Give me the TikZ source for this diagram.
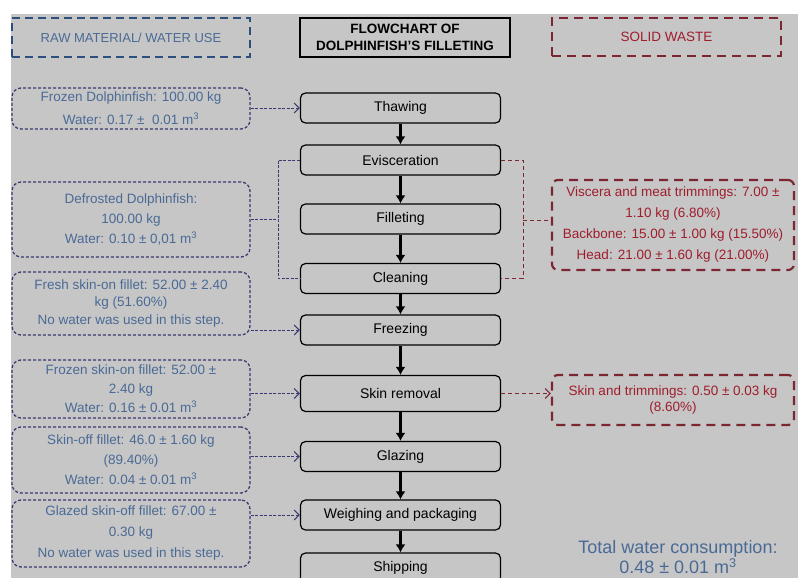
\documentclass[tikz,border=0pt]{standalone}
\usepackage{fontspec}
\setmainfont{Liberation Sans}
\usetikzlibrary{arrows.meta}
\definecolor{bg}{HTML}{C6C6C6}
\definecolor{bluetxt}{HTML}{4A6A96}
\definecolor{navyb}{HTML}{3A3A72}
\definecolor{blueb}{HTML}{2D4F7E}
\definecolor{redtxt}{HTML}{9E1E2C}
\definecolor{redb}{HTML}{7B2630}
\tikzset{
  proc/.style={draw=black, line width=1.2pt, rounded corners=5pt, minimum width=200pt, minimum height=30pt, inner sep=0pt, font=\fontsize{14}{16}\selectfont},
  inbox/.style={draw=navyb, line width=1.3pt, dash pattern=on 3pt off 2pt, rounded corners=9pt, minimum width=238pt, inner sep=0pt, align=center, text=bluetxt},
  wbox/.style={draw=redb, line width=2.2pt, dash pattern=on 9pt off 6pt, rounded corners=6pt, minimum width=242pt, inner sep=0pt, align=center, text=redtxt, font=\fontsize{13.5}{21}\selectfont},
  flow/.style={line width=2.2pt, -{Latex[length=8pt,width=10pt]}},
  inarrow/.style={draw=navyb, line width=1pt, dash pattern=on 3pt off 1.5pt, -{Straight Barb[length=5pt,width=10pt]}},
  inconn/.style={draw=navyb, line width=1pt, dash pattern=on 3pt off 1.5pt},
  wconn/.style={draw=redb, line width=1pt, dash pattern=on 4pt off 3pt},
  warrow/.style={draw=redb, line width=1pt, dash pattern=on 4pt off 3pt, -{Straight Barb[length=5pt,width=10pt]}},
}
\begin{document}
\begin{tikzpicture}[x=1pt,y=-1pt]
\useasboundingbox (0,0) rectangle (798,578);
\fill[white] (0,0) rectangle (798,578);
\fill[bg] (11,14) rectangle (798,578);

% headers
\node[draw=blueb, line width=2pt, dash pattern=on 8pt off 5pt, minimum width=238pt, minimum height=39pt, inner sep=0pt, text=bluetxt, font=\fontsize{13}{15}\selectfont] (hraw) at (131,37.5) {RAW MATERIAL/ WATER USE};
\node[draw=black, line width=2pt, minimum width=210pt, minimum height=39pt, inner sep=0pt, align=center, font=\bfseries\fontsize{13.5}{17}\selectfont] (htitle) at (405,37.5) {FLOWCHART OF\\DOLPHINFISH'S FILLETING};
\node[draw=redb, line width=2.2pt, dash pattern=on 9pt off 6pt, minimum width=229pt, minimum height=38pt, inner sep=0pt, text=redtxt, font=\fontsize{13.5}{15}\selectfont] (hwaste) at (666.5,37) {SOLID WASTE};

% process steps
\node[proc] (thaw) at (400.5,108) {Thawing};
\node[proc] (evis) at (400.5,160) {Evisceration};
\node[proc] (fill) at (400.5,219) {Filleting};
\node[proc] (clean) at (400.5,278.5) {Cleaning};
\node[proc] (frz) at (400.5,330) {Freezing};
\node[proc, minimum height=36pt] (skr) at (400.5,393.5) {Skin removal};
\node[proc] (glz) at (400.5,456.5) {Glazing};
\node[proc] (wgh) at (400.5,515) {Weighing and packaging};
\node[proc] (ship) at (400.5,568) {Shipping};

\draw[flow] (thaw) -- (evis);
\draw[flow] (evis) -- (fill);
\draw[flow] (fill) -- (clean);
\draw[flow] (clean) -- (frz);
\draw[flow] (frz) -- (skr);
\draw[flow] (skr) -- (glz);
\draw[flow] (glz) -- (wgh);
\draw[flow] (wgh) -- (ship);

% inputs
\node[inbox, minimum height=41pt, font=\fontsize{13.5}{23}\selectfont] (in1) at (131,108.5) {Frozen Dolphinfish: 100.00 kg\\Water: 0.17 ±\ \ 0.01 m\textsuperscript{3}};
\node[inbox, minimum height=75pt, font=\fontsize{13.5}{20}\selectfont] (in2) at (131,219.5) {Defrosted Dolphinfish:\\100.00 kg\\Water: 0.10 ± 0,01 m\textsuperscript{3}};
\node[inbox, minimum height=63pt, font=\fontsize{13.5}{17.5}\selectfont] (in3) at (131,303.5) {Fresh skin-on fillet: 52.00 ± 2.40\\kg (51.60\%)\\No water was used in this step.};
\node[inbox, minimum height=58pt, font=\fontsize{13.5}{19}\selectfont] (in4) at (131,389) {Frozen skin-on fillet: 52.00 ±\\2.40 kg\\Water: 0.16 ± 0.01 m\textsuperscript{3}};
\node[inbox, minimum height=66pt, font=\fontsize{13.5}{20}\selectfont] (in5) at (131,460) {Skin-off fillet: 46.0 ± 1.60 kg\\(89.40\%)\\Water: 0.04 ± 0.01 m\textsuperscript{3}};
\node[inbox, minimum height=67pt, font=\fontsize{13.5}{21}\selectfont] (in6) at (131,533.5) {Glazed skin-off fillet: 67.00 ±\\0.30 kg\\No water was used in this step.};

\draw[inarrow] (in1.east |- thaw.west) -- (thaw.west);
\coordinate (lj) at (278,219.5);
\draw[inconn] (in2.east) -- (lj);
\draw[inconn] (evis.west) -| (lj) |- (clean.west);
\draw[inarrow] (in3.east |- frz.west) -- (frz.west);
\draw[inarrow] (in4.east |- skr.west) -- (skr.west);
\draw[inarrow] (in5.east |- glz.west) -- (glz.west);
\draw[inarrow] (in6.east |- wgh.west) -- (wgh.west);

% waste
\node[wbox, minimum height=90pt] (w1) at (673,225) {Viscera and meat trimmings: 7.00 ±\\1.10 kg (6.80\%)\\Backbone: 15.00 ± 1.00 kg (15.50\%)\\Head: 21.00 ± 1.60 kg (21.00\%)};
\node[wbox, minimum height=50pt, font=\fontsize{13.5}{16}\selectfont] (w2) at (673,400) {Skin and trimmings: 0.50 ± 0.03 kg\\(8.60\%)};

\coordinate (rj) at (523,220);
\draw[wconn] (evis.east) -| (rj) |- (clean.east);
\draw[wconn] (rj) -- (w1.west |- rj);
\draw[warrow] (skr.east) -- (w2.west |- skr.east);

\node[text=bluetxt, align=center, font=\fontsize{18}{18}\selectfont] (total) at (678,557) {Total water consumption:\\0.48 ± 0.01 m\textsuperscript{3}};
\end{tikzpicture}
\end{document}
